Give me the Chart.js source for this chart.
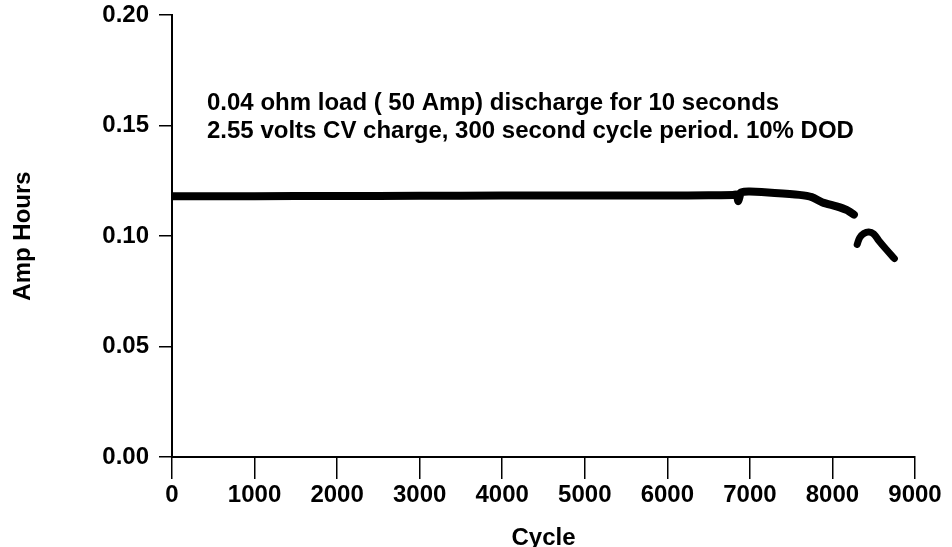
<!DOCTYPE html>
<html>
<head>
<meta charset="utf-8">
<script src="https://cdn.jsdelivr.net/npm/chart.js@4/dist/chart.umd.min.js"></script>
<style>
  html, body { margin: 0; padding: 0; background: #fff; }
  #wrap { width: 952px; height: 547px; position: relative; }
</style>
</head>
<body>
<div id="wrap"><canvas id="myChart"></canvas></div>
<script>
'use strict';

// DATA
const cyclesA = [0, 1000, 2000, 3000, 4000, 5000, 6000, 6500, 6800, 6840, 6860, 6890, 6930, 7000, 7300, 7600, 7750, 7880, 8050, 8170, 8260];
const ampHoursA = [0.1180, 0.1180, 0.1181, 0.1182, 0.1183, 0.1183, 0.1183, 0.1184, 0.1186, 0.1188, 0.1158, 0.1196, 0.1200, 0.1201, 0.1195, 0.1186, 0.1176, 0.1152, 0.1134, 0.1118, 0.1097];
const cyclesB = [8300, 8330, 8380, 8440, 8500, 8560, 8650, 8750];
const ampHoursB = [0.0962, 0.0992, 0.1011, 0.1018, 0.1009, 0.0980, 0.0940, 0.0898];
const xTicks = [0, 1000, 2000, 3000, 4000, 5000, 6000, 7000, 8000, 9000];
const yTicks = [0.00, 0.05, 0.10, 0.15, 0.20];
const noteLines = [
  '0.04 ohm load ( 50 Amp) discharge for 10 seconds',
  '2.55 volts CV charge, 300 second cycle period. 10% DOD'
];

const FONT = '"Liberation Sans", Arial, Helvetica, sans-serif';

function toPoints(xs, ys) {
  return xs.map(function(x, i) { return { x: x, y: ys[i] }; });
}

// notatka na wykresie
const notePlugin = {
  id: 'note',
  afterDraw: function(chart) {
    const c = chart.ctx;
    c.save();
    c.fillStyle = '#000';
    c.font = 'bold 24px ' + FONT;
    c.textBaseline = 'middle';
    c.fillText(noteLines[0], 207, 103);
    c.fillText(noteLines[1], 207, 131);
    c.restore();
  }
};

const ctx = document.getElementById('myChart').getContext('2d');

const chart = new Chart(ctx, {
  type: 'scatter',
  data: {
    datasets: [{
      data: toPoints(cyclesA, ampHoursA),
      showLine: true,
      borderColor: '#000',
      borderWidth: 8,
      pointRadius: 0,
      tension: 0.2,
      borderCapStyle: 'round',
      borderJoinStyle: 'round'
    },
    {
      data: toPoints(cyclesB, ampHoursB),
      showLine: true,
      borderColor: '#000',
      borderWidth: 7,
      pointRadius: 0,
      tension: 0.4,
      borderCapStyle: 'round',
      borderJoinStyle: 'round'
    }]
  },
  options: {
    responsive: true,
    maintainAspectRatio: false,
    animation: false,
    layout: { padding: { left: 0, right: 37, top: 15, bottom: 0 } },
    plugins: { legend: { display: false }, tooltip: { enabled: false } },
    scales: {
      x: {
        type: 'linear',
        min: 0,
        max: 9000,
        afterBuildTicks: function(axis) {
          axis.ticks = xTicks.map(function(v) { return { value: v }; });
        },
        afterFit: function(axis) {
          axis.height = 90;
          axis.paddingLeft = 0;
          axis.paddingRight = 0;
        },
        border: { color: '#000', width: 2 },
        grid: { drawOnChartArea: false, color: '#000', tickLength: 22, lineWidth: 1.5 },
        ticks: {
          color: '#000',
          font: { family: FONT, size: 24, weight: 'bold' },
          maxRotation: 0,
          padding: 2,
          callback: function(v) { return String(v); }
        },
        title: {
          display: true,
          text: 'Cycle',
          color: '#000',
          font: { family: FONT, size: 24, weight: 'bold', lineHeight: 0.75 },
          padding: 0
        }
      },
      y: {
        min: 0,
        max: 0.2,
        afterBuildTicks: function(axis) {
          axis.ticks = yTicks.map(function(v) { return { value: v }; });
        },
        afterFit: function(axis) {
          axis.width = 172;
          axis.paddingTop = 0;
          axis.paddingBottom = 0;
        },
        border: { color: '#000', width: 2 },
        grid: { drawOnChartArea: false, color: '#000', tickLength: 13, lineWidth: 1.5 },
        ticks: {
          color: '#000',
          font: { family: FONT, size: 24, weight: 'bold' },
          padding: 10,
          callback: function(v) { return v.toFixed(2); }
        },
        title: {
          display: true,
          text: 'Amp Hours',
          color: '#000',
          font: { family: FONT, size: 24, weight: 'bold', lineHeight: 1 },
          padding: { top: 11, bottom: 0 }
        }
      }
    }
  },
  plugins: [notePlugin]
});
</script>
</body>
</html>
